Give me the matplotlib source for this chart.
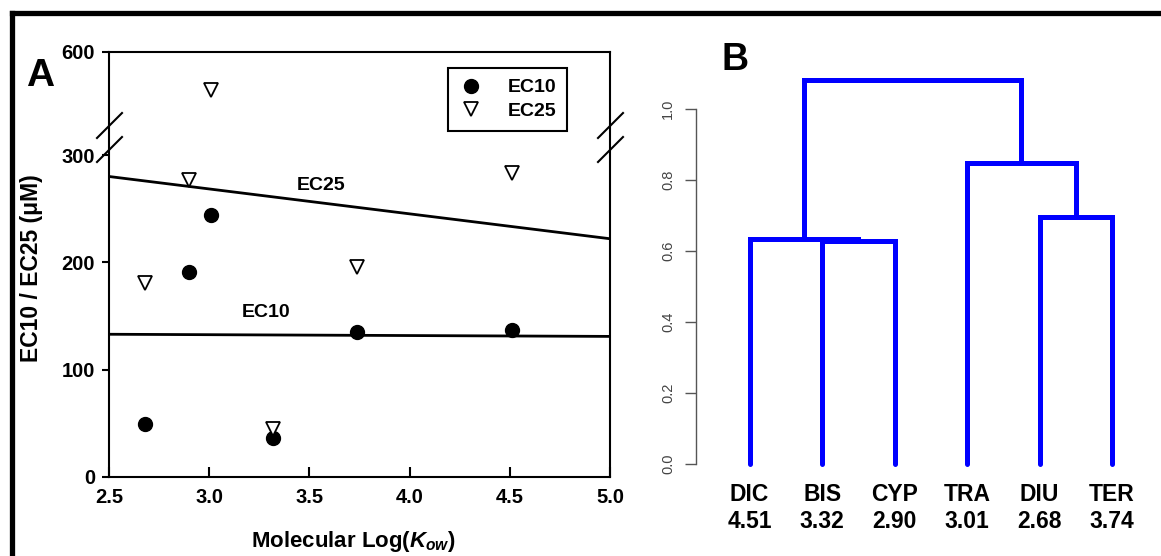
import matplotlib
matplotlib.use('Agg')
import matplotlib.pyplot as plt
import numpy as np
from matplotlib.lines import Line2D

plt.rcParams['font.family'] = ['Liberation Sans', 'DejaVu Sans']
plt.rcParams['mathtext.fontset'] = 'custom'
plt.rcParams['mathtext.it'] = 'Liberation Sans:italic:bold'
plt.rcParams['mathtext.rm'] = 'Liberation Sans:bold'
plt.rcParams['mathtext.bf'] = 'Liberation Sans:bold'

# ---------------- data ----------------
logkow_x = [2.68, 2.90, 3.01, 3.32, 3.74, 4.51]
ec10 = [49, 191, 244, 36, 135, 137]
ec25 = [181, 277, 490, 45, 196, 283]
fit_x = [2.5, 5.0]
ec10_fit = [133, 131]
ec25_fit = [280, 222]
x_ticks = [2.5, 3.0, 3.5, 4.0, 4.5, 5.0]
y_ticks = [0, 100, 200, 300, 600]

leaf_names = ["DIC", "BIS", "CYP", "TRA", "DIU", "TER"]
leaf_logkow = ["4.51", "3.32", "2.90", "3.01", "2.68", "3.74"]
# linkage: (child a, child b, height); leaves 0..5, new clusters 6..
merge_a = [1, 0, 4, 3, 7]
merge_b = [2, 6, 5, 8, 9]
merge_h = [0.629, 0.633, 0.695, 0.849, 1.082]
dend_ticks = [0.0, 0.2, 0.4, 0.6, 0.8, 1.0]

# ---------------- figure ----------------
W, H = 1161, 556
fig = plt.figure(figsize=(W / 100, H / 100), dpi=100)

def fx(px):
    return px / W

def fy(py):
    return 1 - py / H

# broken-axis scale: upper segment compressed
R = 0.32
BRK = 300.0

def fwd(v):
    v = np.asarray(v, dtype=float)
    return np.where(v <= BRK, v, BRK + (v - BRK) * R)

def inv(u):
    u = np.asarray(u, dtype=float)
    return np.where(u <= BRK, u, BRK + (u - BRK) / R)

axL, axR, axT, axB_ = 109, 610, 52, 477
axA = fig.add_axes([fx(axL), fy(axB_), fx(axR) - fx(axL), fy(axT) - fy(axB_)])
axA.set_yscale('function', functions=(fwd, inv))
axA.set_xlim(2.5, 5.0)
axA.set_ylim(0, 600)

axA.plot(fit_x, ec25_fit, color='black', lw=2.0, solid_capstyle='butt')
axA.plot(fit_x, ec10_fit, color='black', lw=2.0, solid_capstyle='butt')
axA.plot(logkow_x, ec10, 'o', ms=10, color='black', label='EC10', clip_on=False, zorder=3)
axA.plot(logkow_x, ec25, 'v', ms=9.5, mfc='white', mec='black', mew=1.3, label='EC25',
         clip_on=False, zorder=4)

axA.set_xticks(x_ticks)
axA.set_xticklabels([f"{t:.1f}" for t in x_ticks])
axA.set_yticks(y_ticks)
axA.set_yticklabels([str(t) for t in y_ticks])
axA.yaxis.set_minor_locator(matplotlib.ticker.NullLocator())
axA.tick_params(axis='x', direction='in', length=7, width=1.5, labelsize=14.5, pad=8)
axA.tick_params(axis='y', direction='out', length=5, width=1.5, labelsize=14.5, pad=5)
for lab in axA.get_xticklabels() + axA.get_yticklabels():
    lab.set_fontweight('bold')
for sp in axA.spines.values():
    sp.set_linewidth(1.5)

leg = axA.legend(loc='upper left', bbox_to_anchor=(0.677, 0.962), frameon=True,
                 fancybox=False, edgecolor='black', framealpha=1,
                 prop={'weight': 'bold', 'size': 14}, handlelength=1.2,
                 handletextpad=1.3, borderpad=0.55, labelspacing=0.3,
                 borderaxespad=0)
leg.get_frame().set_linewidth(1.5)

axA.text(3.558, 272, 'EC25', fontsize=14, fontweight='bold', ha='center', va='center')
axA.text(3.283, 153, 'EC10', fontsize=14, fontweight='bold', ha='center', va='center')

# break marks
def ax_pt(px, py):
    return ((px - axL) / (axR - axL), (axB_ - py) / (axB_ - axT))

for (x0, x1) in [(97, 122), (598, 623)]:
    for (y0, y1) in [(138, 113), (162, 137)]:
        p0 = ax_pt(x0, y0)
        p1 = ax_pt(x1, y1)
        axA.add_line(Line2D([p0[0], p1[0]], [p0[1], p1[1]], transform=axA.transAxes,
                            color='black', lw=1.5, clip_on=False))

fig.text(fx(40), fy(76), 'A', fontsize=28, fontweight='bold', ha='center', va='center')
fig.text(fx(32), fy(268), 'EC10 / EC25 (\u03bcM)', fontsize=16.5, fontweight='bold',
         rotation=90, ha='center', va='center')
fig.text(fx(353), fy(541), r'Molecular Log($K_{ow}$)', fontsize=16, fontweight='bold',
         ha='center', va='center')

# ---------------- panel B: dendrogram ----------------
bL, bR, bT, bB = 696, 1150, 60, 480
axB = fig.add_axes([fx(bL), fy(bB), fx(bR) - fx(bL), fy(bT) - fy(bB)])
x0_px, dx_px = 749.6, 72.5
y0_px, dy_px = 464.0, 355.0
axB.set_xlim((bL - x0_px) / dx_px, (bR - x0_px) / dx_px)
axB.set_ylim((y0_px - bB) / dy_px, (y0_px - bT) / dy_px)

n = len(leaf_names)
node_x = {i: float(i) for i in range(n)}
node_y = {i: 0.0 for i in range(n)}
for k, (a, b, h) in enumerate(zip(merge_a, merge_b, merge_h)):
    xa, ya = node_x[a], node_y[a]
    xb, yb = node_x[b], node_y[b]
    axB.plot([xa, xa, xb, xb], [ya, h, h, yb], color='#0000ff', lw=3.6,
             solid_joinstyle='miter', solid_capstyle='round')
    node_x[n + k] = (xa + xb) / 2
    node_y[n + k] = h

for s in ['top', 'right', 'bottom']:
    axB.spines[s].set_visible(False)
axB.spines['left'].set_bounds(0, 1)
axB.spines['left'].set_color('#555555')
axB.spines['left'].set_linewidth(1.0)
axB.set_yticks(dend_ticks)
axB.set_yticklabels([f"{t:.1f}" for t in dend_ticks])
axB.tick_params(axis='y', direction='out', length=8, width=1, color='#555555',
                labelcolor='#444444', labelsize=10.5, pad=7, labelrotation=90)
for lab in axB.get_yticklabels():
    lab.set_va('center')
axB.set_xticks(range(n))
axB.set_xticklabels([f"{a}\n{b}" for a, b in zip(leaf_names, leaf_logkow)],
                    fontsize=16.5, fontweight='bold', linespacing=1.25)
axB.tick_params(axis='x', length=0, pad=2)

fig.text(fx(735), fy(60), 'B', fontsize=27, fontweight='bold', ha='center', va='center')

# outer frame (cropped on right/bottom)
fig.add_artist(Line2D([fx(11.5), 1.01], [fy(12.5), fy(12.5)], transform=fig.transFigure,
                      color='black', lw=3.8))
fig.add_artist(Line2D([fx(11.5), fx(11.5)], [fy(12.5), -0.01], transform=fig.transFigure,
                      color='black', lw=3.8))

fig.savefig('out.png', dpi=100)
